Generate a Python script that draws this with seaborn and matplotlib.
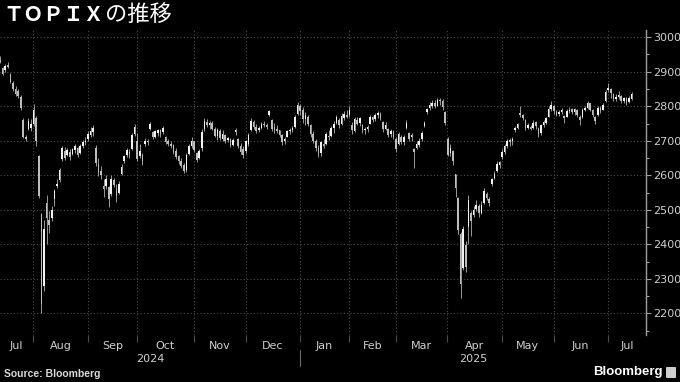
import pandas as pd
import matplotlib
matplotlib.use("Agg")
import matplotlib.pyplot as plt
from matplotlib.ticker import MultipleLocator
from matplotlib.patches import FancyBboxPatch
import seaborn as sns

# TSE trading calendar, Jul 11 2024 - Jul 11 2025
holidays = ["2024-07-15", "2024-08-12", "2024-09-16", "2024-09-23", "2024-10-14",
            "2024-11-04", "2024-12-31", "2025-01-01", "2025-01-02", "2025-01-03",
            "2025-01-13", "2025-02-11", "2025-02-24", "2025-03-20", "2025-04-29",
            "2025-05-05", "2025-05-06"]

# daily OHLC, one line per month
opens = [
    2935, 2912, 2905, 2920, 2893, 2868, 2850, 2843, 2828, 2760, 2712, 2735, 2738, 2750,
    2765, 2655, 2487, 2280, 2520, 2470, 2475, 2530, 2570, 2585, 2648, 2670, 2660, 2668, 2662, 2672, 2680, 2665, 2685, 2695, 2705,
    2718, 2725, 2680, 2632, 2612, 2570, 2570, 2565, 2545, 2585, 2560, 2550, 2605, 2640, 2658, 2668, 2675, 2720, 2700,
    2655, 2660, 2690, 2695, 2735, 2725, 2712, 2722, 2730, 2725, 2712, 2698, 2692, 2688, 2670, 2655, 2640, 2630, 2615, 2662, 2685, 2698,
    2665, 2650, 2680, 2735, 2755, 2745, 2752, 2735, 2715, 2728, 2705, 2718, 2702, 2705, 2688, 2725, 2705, 2685, 2675, 2670,
    2690, 2730, 2755, 2740, 2730, 2738, 2750, 2745, 2775, 2760, 2740, 2735, 2730, 2718, 2700, 2712, 2728, 2732, 2740, 2778, 2800,
    2790, 2762, 2770, 2745, 2720, 2700, 2680, 2665, 2690, 2690, 2715, 2715, 2738, 2752, 2760, 2748, 2765, 2775, 2775,
    2745, 2728, 2760, 2752, 2745, 2730, 2735, 2750, 2768, 2762, 2775, 2778, 2755, 2735, 2735, 2720, 2726, 2705,
    2690, 2712, 2695, 2738, 2722, 2712, 2675, 2680, 2688, 2705, 2742, 2782, 2795, 2800, 2810, 2802, 2818, 2815, 2782, 2705,
    2665, 2670, 2603, 2533, 2430, 2330, 2398, 2450, 2490, 2485, 2502, 2512, 2492, 2520, 2545, 2532, 2575, 2592, 2612, 2630, 2652,
    2668, 2685, 2702, 2700, 2730, 2738, 2780, 2775, 2760, 2738, 2740, 2738, 2755, 2738, 2722, 2745, 2752, 2770, 2792, 2800,
    2782, 2778, 2783, 2772, 2770, 2786, 2792, 2782, 2790, 2768, 2768, 2790, 2796, 2808, 2788, 2768, 2775, 2795, 2790, 2815, 2848,
    2850, 2835, 2822, 2828, 2830, 2815, 2825, 2812, 2820,
]
highs = [
    2946, 2915, 2922, 2928, 2896, 2872, 2860, 2850, 2832, 2765, 2718, 2765, 2762, 2806,
    2772, 2660, 2490, 2470, 2542, 2497, 2510, 2560, 2588, 2622, 2685, 2682, 2680, 2675, 2680, 2690, 2682, 2692, 2703, 2710, 2727,
    2740, 2745, 2688, 2650, 2628, 2590, 2600, 2570, 2600, 2592, 2575, 2582, 2632, 2660, 2680, 2675, 2723, 2748, 2722,
    2690, 2665, 2708, 2705, 2755, 2728, 2732, 2734, 2735, 2742, 2715, 2705, 2700, 2692, 2678, 2660, 2650, 2635, 2665, 2690, 2712, 2700,
    2668, 2676, 2735, 2765, 2762, 2756, 2756, 2740, 2736, 2733, 2730, 2720, 2712, 2708, 2707, 2738, 2708, 2693, 2685, 2702,
    2722, 2765, 2760, 2750, 2742, 2755, 2756, 2752, 2790, 2762, 2752, 2745, 2732, 2720, 2712, 2732, 2738, 2742, 2775, 2813, 2806,
    2798, 2782, 2775, 2748, 2728, 2705, 2688, 2700, 2705, 2725, 2730, 2742, 2756, 2775, 2765, 2780, 2785, 2790, 2800,
    2755, 2770, 2770, 2770, 2748, 2740, 2745, 2775, 2772, 2780, 2785, 2782, 2758, 2755, 2738, 2735, 2730, 2712,
    2726, 2718, 2718, 2760, 2725, 2722, 2678, 2698, 2708, 2728, 2756, 2795, 2812, 2818, 2818, 2825, 2825, 2822, 2785, 2712,
    2690, 2673, 2605, 2538, 2435, 2452, 2410, 2543, 2495, 2510, 2528, 2518, 2525, 2562, 2552, 2538, 2592, 2612, 2640, 2642, 2675,
    2690, 2705, 2708, 2710, 2742, 2752, 2800, 2778, 2762, 2752, 2745, 2760, 2758, 2740, 2750, 2760, 2770, 2800, 2815, 2805,
    2790, 2788, 2795, 2775, 2792, 2798, 2795, 2795, 2792, 2776, 2795, 2800, 2814, 2810, 2792, 2772, 2800, 2800, 2810, 2848, 2866,
    2852, 2838, 2835, 2845, 2833, 2828, 2828, 2830, 2842,
]
lows = [
    2925, 2890, 2900, 2910, 2866, 2845, 2830, 2825, 2790, 2708, 2700, 2730, 2728, 2742,
    2686, 2535, 2200, 2265, 2400, 2432, 2468, 2510, 2562, 2580, 2642, 2645, 2655, 2645, 2658, 2665, 2652, 2662, 2678, 2688, 2698,
    2710, 2715, 2628, 2598, 2588, 2537, 2560, 2508, 2540, 2565, 2522, 2545, 2600, 2635, 2652, 2650, 2672, 2715, 2640,
    2650, 2630, 2685, 2688, 2730, 2705, 2708, 2715, 2712, 2720, 2690, 2685, 2680, 2662, 2648, 2633, 2620, 2606, 2610, 2658, 2680, 2668,
    2638, 2648, 2670, 2728, 2740, 2735, 2730, 2710, 2702, 2702, 2700, 2693, 2695, 2683, 2685, 2718, 2678, 2662, 2650, 2665,
    2685, 2728, 2735, 2722, 2725, 2735, 2740, 2735, 2772, 2728, 2722, 2722, 2712, 2688, 2692, 2710, 2720, 2725, 2736, 2775, 2775,
    2752, 2745, 2742, 2712, 2693, 2670, 2652, 2655, 2680, 2688, 2702, 2712, 2722, 2748, 2738, 2745, 2760, 2765, 2770,
    2720, 2725, 2745, 2742, 2722, 2720, 2725, 2748, 2755, 2758, 2765, 2760, 2726, 2730, 2712, 2712, 2706, 2668,
    2688, 2690, 2688, 2735, 2700, 2698, 2620, 2675, 2682, 2700, 2740, 2778, 2790, 2795, 2795, 2800, 2805, 2790, 2745, 2655,
    2655, 2630, 2538, 2430, 2243, 2325, 2320, 2400, 2425, 2478, 2495, 2480, 2488, 2518, 2528, 2512, 2570, 2588, 2608, 2620, 2648,
    2662, 2680, 2685, 2688, 2725, 2735, 2770, 2760, 2730, 2735, 2730, 2735, 2735, 2712, 2718, 2740, 2748, 2768, 2785, 2778,
    2772, 2772, 2778, 2752, 2768, 2780, 2778, 2775, 2770, 2745, 2765, 2785, 2792, 2785, 2770, 2750, 2772, 2780, 2788, 2812, 2840,
    2825, 2815, 2815, 2822, 2810, 2808, 2805, 2808, 2818,
]
closes = [
    2929, 2894, 2917, 2914, 2870, 2850, 2835, 2830, 2794, 2712, 2706, 2758, 2750, 2790,
    2700, 2540, 2226, 2445, 2475, 2455, 2500, 2555, 2575, 2615, 2678, 2650, 2672, 2652, 2675, 2684, 2660, 2686, 2697, 2700, 2720,
    2728, 2738, 2636, 2610, 2600, 2560, 2590, 2530, 2590, 2572, 2540, 2575, 2625, 2655, 2672, 2660, 2718, 2740, 2648,
    2670, 2640, 2700, 2698, 2748, 2710, 2728, 2730, 2720, 2738, 2695, 2690, 2685, 2668, 2652, 2640, 2628, 2612, 2660, 2685, 2700, 2672,
    2645, 2670, 2725, 2758, 2745, 2752, 2735, 2715, 2730, 2708, 2720, 2700, 2708, 2688, 2702, 2730, 2685, 2668, 2660, 2698,
    2718, 2758, 2740, 2728, 2738, 2750, 2745, 2740, 2785, 2735, 2730, 2728, 2718, 2695, 2705, 2728, 2732, 2738, 2770, 2805, 2785,
    2762, 2775, 2750, 2720, 2700, 2680, 2665, 2695, 2685, 2720, 2712, 2738, 2750, 2768, 2745, 2772, 2778, 2770, 2790,
    2730, 2762, 2750, 2765, 2730, 2735, 2740, 2770, 2760, 2775, 2780, 2765, 2735, 2745, 2718, 2728, 2712, 2675,
    2720, 2695, 2712, 2752, 2705, 2718, 2668, 2692, 2700, 2722, 2752, 2792, 2805, 2810, 2800, 2818, 2815, 2798, 2752, 2660,
    2680, 2640, 2562, 2440, 2285, 2445, 2335, 2528, 2466, 2500, 2515, 2490, 2515, 2555, 2535, 2520, 2588, 2605, 2632, 2638, 2668,
    2685, 2698, 2695, 2705, 2738, 2748, 2775, 2765, 2738, 2745, 2735, 2752, 2742, 2720, 2745, 2755, 2765, 2792, 2805, 2785,
    2775, 2783, 2790, 2765, 2786, 2790, 2782, 2792, 2776, 2760, 2790, 2796, 2808, 2790, 2776, 2758, 2795, 2786, 2805, 2842, 2852,
    2838, 2822, 2828, 2832, 2815, 2825, 2810, 2825, 2835,
]

month_labels = ["Jul", "Aug", "Sep", "Oct", "Nov", "Dec", "Jan", "Feb", "Mar", "Apr", "May", "Jun", "Jul"]
year_labels = ["2024", "2025"]

dates = pd.bdate_range("2024-07-11", "2025-07-11")
dates = dates[~dates.isin(pd.to_datetime(holidays))]

df = pd.DataFrame({"date": dates, "open": opens, "high": highs, "low": lows, "close": closes})
df["i"] = range(len(df))
up = df["close"] >= df["open"]

# --- style ---
sns.set_style("dark", rc={"axes.facecolor": "black", "figure.facecolor": "black"})
plt.rcParams["font.family"] = ["DejaVu Sans", "Noto Sans CJK JP"]

fig = plt.figure(figsize=(6.8, 3.82), dpi=100)
ax = fig.add_axes([0, 1 - 335 / 382, 646 / 680, 305 / 382])
ax.set_facecolor("black")

xmin, xmax = 0.0, 249.6
ax.set_xlim(xmin, xmax)
ax.set_ylim(2137, 3021)

# month boundaries
first_idx = df.groupby(df["date"].dt.to_period("M"))["i"].min().values
bounds = first_idx[1:] - 1.1

grid_kw = dict(color="#4d4d4d", lw=0.8, ls=(0, (1, 2)))
for b in bounds:
    ax.axvline(b, zorder=0, **grid_kw)
ax.yaxis.grid(True, which="major", zorder=0, **grid_kw)
ax.xaxis.grid(False)

# candles
ax.vlines(df["i"], df["low"], df["high"], color="#9a9a9a", lw=0.7, zorder=2)
ax.bar(df["i"][up], (df["close"] - df["open"])[up], bottom=df["open"][up],
       width=0.62, color="#f2f2f2", linewidth=0, zorder=3)
ax.bar(df["i"][~up], (df["open"] - df["close"])[~up], bottom=df["close"][~up],
       width=0.62, color="#bdbdbd", linewidth=0, zorder=3)

# y axis on the right
for s in ["left", "top", "bottom"]:
    ax.spines[s].set_visible(False)
ax.spines["right"].set_visible(True)
ax.spines["right"].set_color("#a0a0a0")
ax.spines["right"].set_linewidth(1.0)
ax.yaxis.tick_right()
ax.set_yticks(range(2200, 3001, 100))
ax.yaxis.set_minor_locator(MultipleLocator(50))
ax.tick_params(axis="y", which="major", direction="out", length=3.5, width=0.8,
               color="#a0a0a0", labelcolor="#cfcfcf", labelsize=8, pad=1.5)
ax.tick_params(axis="y", which="minor", direction="out", length=2.5, width=0.8, color="#a0a0a0")

# month tick marks below the plot
ax.set_xticks(bounds)
ax.set_xticklabels([])
ax.tick_params(axis="x", which="major", direction="out", length=5, width=0.8,
               color="#4d4d4d", bottom=True)

edges = [xmin] + list(bounds) + [xmax]
trans = ax.get_xaxis_transform()
for lab, a, b in zip(month_labels, edges[:-1], edges[1:]):
    ax.text((a + b) / 2, -0.036, lab, transform=trans, ha="center", va="center",
            fontsize=8, color="#cfcfcf", clip_on=False)

jan = bounds[5]
for lab, a, b in zip(year_labels, [xmin, jan], [jan, xmax]):
    ax.text((a + b) / 2, -0.078, lab, transform=trans, ha="center", va="center",
            fontsize=8, color="#cfcfcf", clip_on=False)
ax.plot([jan, jan], [-0.05, -0.102], transform=trans, color="#6a6a6a", lw=0.8, clip_on=False)

# title
t1 = fig.text(3 / 680, 1 - 21 / 382, "ＴＯＰＩＸ", fontsize=14.5, weight="bold",
              family=["Noto Sans CJK JP", "DejaVu Sans"], color="white", va="baseline")
fig.canvas.draw()
bb = t1.get_window_extent()
fig.text(bb.x1 / fig.bbox.width + 1 / 680, 1 - 21 / 382, "の推移", fontsize=16,
         family=["Noto Sans CJK JP", "DejaVu Sans"], color="white", va="baseline")

# footer
fig.text(4 / 680, 1 - 374 / 382, "Source: Bloomberg", fontsize=7.5, weight="bold",
         family=["Liberation Sans", "DejaVu Sans"], color="#d9d9d9", va="center")
fig.text(663 / 680, 1 - 372 / 382, "Bloomberg", fontsize=9.5, weight="bold",
         family=["Liberation Sans", "DejaVu Sans"], color="white", va="center", ha="right")
fig.patches.append(FancyBboxPatch((666 / 680, 1 - 378 / 382), 10 / 680, 11 / 382,
                                  boxstyle="round,pad=0,rounding_size=0.002",
                                  transform=fig.transFigure, facecolor="#cfcfcf",
                                  edgecolor="none", figure=fig))

fig.savefig("out.png", dpi=100, facecolor="black")
